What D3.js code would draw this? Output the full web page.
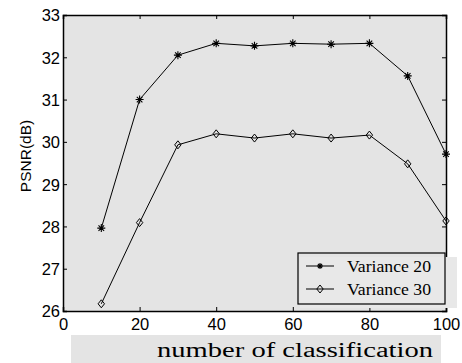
<!DOCTYPE html>
<html>
<head>
<meta charset="utf-8">
<script src="https://cdn.jsdelivr.net/npm/d3@7"></script>
<style>
  body { margin: 0; background: #fff; }
  svg { display: block; }
  .sans { font-family: "Liberation Sans", Arial, sans-serif; }
  .serif { font-family: "Liberation Serif", "Times New Roman", serif; }
</style>
</head>
<body>
<svg id="chart" width="462" height="363"></svg>
<script>
const classes = [10, 20, 30, 40, 50, 60, 70, 80, 90, 100]
const var20 = [27.96, 31.0, 32.05, 32.33, 32.27, 32.33, 32.31, 32.33, 31.56, 29.71]
const var30 = [26.17, 28.09, 29.93, 30.19, 30.09, 30.19, 30.09, 30.16, 29.48, 28.13]
const xTicks = [0, 20, 40, 60, 80, 100]
const yTicks = [26, 27, 28, 29, 30, 31, 32, 33]
const seriesNames = ['Variance 20', 'Variance 30']

const svg = d3.select('#chart')
const L = 63, R = 446, T = 15, B = 311

const x = d3.scaleLinear().domain([0, 100]).range([L, R])
const y = d3.scaleLinear().domain([26, 33]).range([B, T])

svg.append('rect')
  .attr('x', L).attr('y', T).attr('width', R - L).attr('height', B - T)
  .attr('fill', '#e4e4e4')

// axes, ticks inside on all four sides
const tick = 4
const fmt = d3.format('d')
const gx = svg.append('g').attr('transform', `translate(0,${B})`)
  .call(d3.axisBottom(x).tickValues(xTicks).tickSize(-tick).tickFormat(fmt))
const gxTop = svg.append('g').attr('transform', `translate(0,${T})`)
  .call(d3.axisTop(x).tickValues(xTicks).tickSize(-tick).tickFormat(''))
const gy = svg.append('g').attr('transform', `translate(${L},0)`)
  .call(d3.axisLeft(y).tickValues(yTicks).tickSize(-tick).tickFormat(fmt))
const gyR = svg.append('g').attr('transform', `translate(${R},0)`)
  .call(d3.axisRight(y).tickValues(yTicks).tickSize(-tick).tickFormat(''))

;[gx, gxTop, gy, gyR].forEach(g => {
  g.attr('font-family', null).attr('font-size', null)
  g.select('.domain').attr('stroke', '#000').attr('stroke-width', 1.5)
  g.selectAll('.tick line').attr('stroke', '#000')
  g.selectAll('text').attr('class', 'sans').attr('font-size', 16.5).attr('fill', '#000')
})
gx.selectAll('text').attr('dy', null).attr('y', 19)
gy.selectAll('text').attr('x', -3).attr('dy', '0.36em')

// y label
svg.append('text')
  .attr('class', 'sans')
  .attr('transform', 'translate(31,156) rotate(-90)')
  .attr('text-anchor', 'middle')
  .attr('font-size', 15.5)
  .text('PSNR(dB)')

// x label with gray band
svg.append('rect')
  .attr('x', 71).attr('y', 335).attr('width', 370).attr('height', 28)
  .attr('fill', '#e4e4e4')
svg.append('text')
  .attr('class', 'serif')
  .attr('x', 157).attr('y', 357)
  .attr('font-size', 20)
  .attr('textLength', 276).attr('lengthAdjust', 'spacingAndGlyphs')
  .text('number of classification')

const line = d3.line().x((d, i) => x(classes[i])).y(d => y(d))

function star (g, cx, cy, r) {
  const p = `M${cx - r},${cy}L${cx + r},${cy}M${cx},${cy - r}L${cx},${cy + r}` +
    `M${cx - r * 0.7},${cy - r * 0.7}L${cx + r * 0.7},${cy + r * 0.7}` +
    `M${cx - r * 0.7},${cy + r * 0.7}L${cx + r * 0.7},${cy - r * 0.7}`
  g.append('path').attr('d', p).attr('stroke', '#000').attr('stroke-width', 1.1).attr('fill', 'none')
}
function diamond (g, cx, cy, r) {
  g.append('path')
    .attr('d', `M${cx},${cy - r}L${cx + r * 0.8},${cy}L${cx},${cy + r}L${cx - r * 0.8},${cy}Z`)
    .attr('stroke', '#000').attr('stroke-width', 1).attr('fill', 'none')
}

const series = [
  { values: var20, mark: star },
  { values: var30, mark: diamond }
]

series.forEach(s => {
  svg.append('path').datum(s.values)
    .attr('d', line).attr('fill', 'none').attr('stroke', '#000').attr('stroke-width', 1)
  const g = svg.append('g')
  s.values.forEach((v, i) => s.mark(g, x(classes[i]), y(v), 4))
})

// legend
const lg = svg.append('g')
lg.append('rect').attr('x', 300).attr('y', 257).attr('width', 157).attr('height', 51).attr('fill', '#e8e8e8')
lg.append('rect').attr('x', 298).attr('y', 253).attr('width', 147).attr('height', 51)
  .attr('fill', 'none').attr('stroke', '#000').attr('stroke-width', 1.2)
seriesNames.forEach((name, i) => {
  const ly = 266 + i * 23
  lg.append('line').attr('x1', 306).attr('x2', 334).attr('y1', ly).attr('y2', ly)
    .attr('stroke', '#000').attr('stroke-width', 1)
  series[i].mark(lg, 320, ly, i === 0 ? 3 : 4)
  lg.append('text').attr('class', 'serif')
    .attr('x', 347).attr('y', ly + 6)
    .attr('font-size', 17)
    .attr('textLength', 84).attr('lengthAdjust', 'spacingAndGlyphs')
    .text(name)
})
</script>
</body>
</html>
